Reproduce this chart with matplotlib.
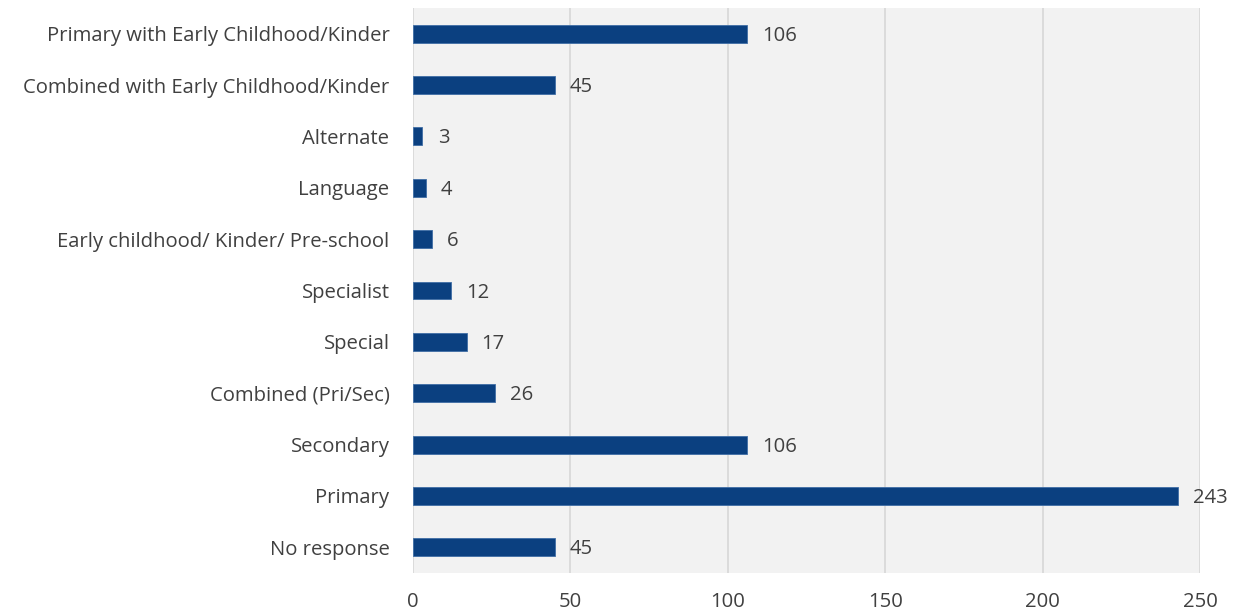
import matplotlib.pyplot as plt

plt.rcParams['font.family'] = ['Open Sans', 'DejaVu Sans']

# Categories bottom to top
categories = ['No response', 'Primary', 'Secondary', 'Combined (Pri/Sec)', 'Special',
              'Specialist', 'Early childhood/ Kinder/ Pre-school', 'Language',
              'Alternate', 'Combined with Early Childhood/Kinder',
              'Primary with Early Childhood/Kinder']
counts = [45, 243, 106, 26, 17, 12, 6, 4, 3, 45, 106]
xticks = [0, 50, 100, 150, 200, 250]

fig = plt.figure(figsize=(12.43, 6.15), dpi=100)
ax = fig.add_axes([0.3323, 0.0683, 0.6331, 0.9187])
ax.set_facecolor('#f2f2f2')

y = range(len(categories))
ax.barh(y, counts, height=0.35, color='#0b4080', edgecolor='#3f6ea6', linewidth=0.6, zorder=3)
for yi, v in zip(y, counts):
    ax.text(v + 4.8, yi - 0.04, str(v), va='center', ha='left', fontsize=14.6, color='#404040', clip_on=False)

ax.set_xlim(0, 250)
ax.set_ylim(-0.5, len(categories) - 0.5)
ax.set_xticks(xticks)
ax.set_yticks(list(y))
ax.set_yticklabels(categories)
ax.grid(axis='x', color='#d9d9d9', linewidth=1.3, zorder=0)
for s in ax.spines.values():
    s.set_visible(False)
ax.tick_params(axis='both', length=0, labelsize=14.6, labelcolor='#404040')
ax.tick_params(axis='x', pad=14)
ax.tick_params(axis='y', pad=17)

fig.savefig('out.png', dpi=100)
